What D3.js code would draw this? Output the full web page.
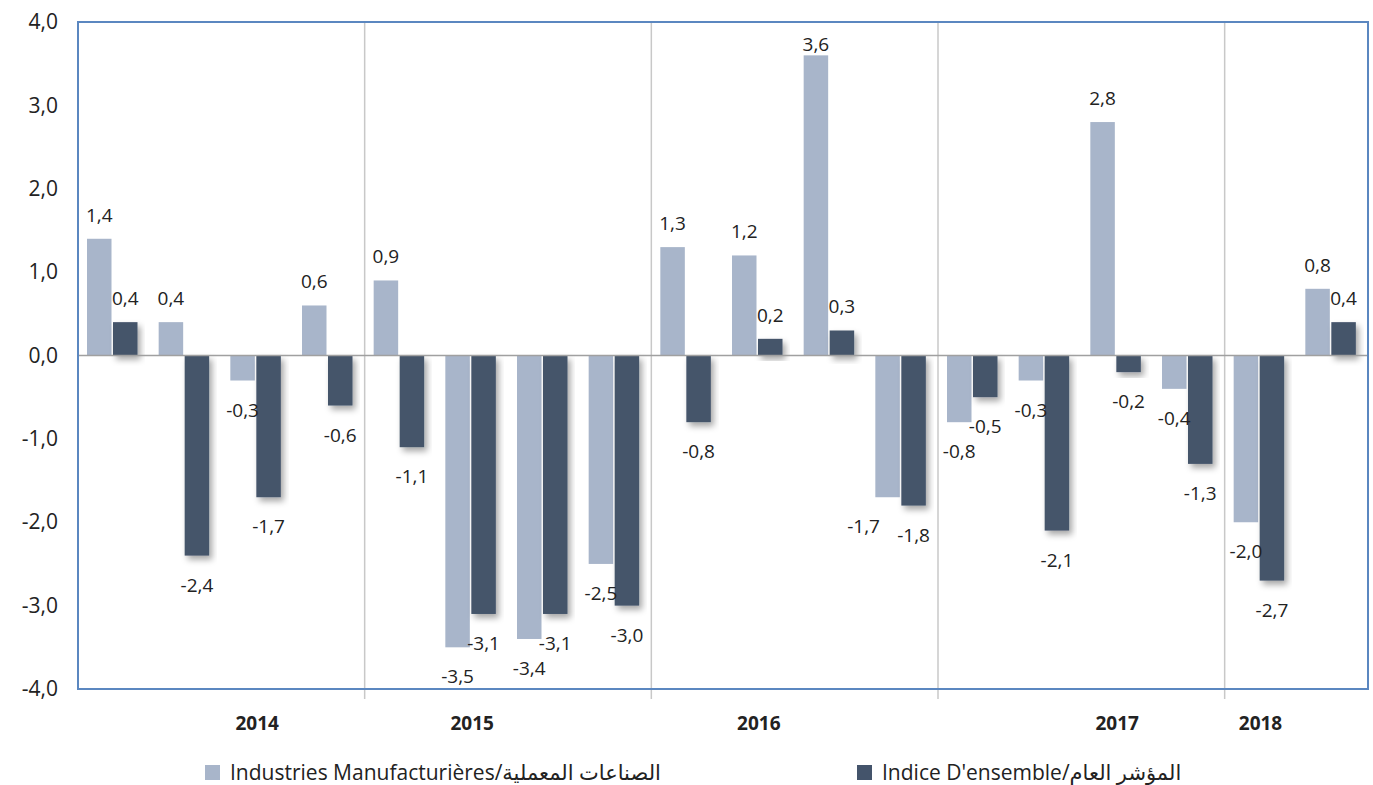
<!DOCTYPE html>
<html>
<head>
<meta charset="utf-8">
<script src="https://cdn.jsdelivr.net/npm/d3@7"></script>
<style>
  body { margin: 0; background: #fff; }
  text { font-family: "Open Sans", "DejaVu Sans", sans-serif; fill: #222; }
</style>
</head>
<body>
<div id="chart-area"></div>
<script>
// quarterly groups, 2014 T1 -> 2018 T2
var quarters = d3.range(18).map(function(i) { return "Q" + i; });
var manuf = [1.4, 0.4, -0.3, 0.6, 0.9, -3.5, -3.4, -2.5, 1.3, 1.2, 3.6, -1.7, -0.8, -0.3, 2.8, -0.4, -2.0, 0.8];
var ensemble = [0.4, -2.4, -1.7, -0.6, -1.1, -3.1, -3.1, -3.0, -0.8, 0.2, 0.3, -1.8, -0.5, -2.1, -0.2, -1.3, -2.7, 0.4];
var yearLabels = ["2014", "2015", "2016", "2017", "2018"];
var yearAt = [2, 5, 9, 14, 16];        // group under which each year label sits
var separators = [4, 8, 12, 16];       // group index where a new year starts
var yTicks = [-4, -3, -2, -1, 0, 1, 2, 3, 4];
var seriesNames = ["Industries Manufacturières/الصناعات المعملية", "Indice D'ensemble/المؤشر العام"];
var colors = ["#a8b5ca", "#44546b"];

var W = 1373, H = 785;
var margin = { top: 22, right: 5, bottom: 96, left: 78 };
var width = W - margin.left - margin.right,
    height = H - margin.top - margin.bottom;

var fmt = function(d) { return d3.format(".1f")(d).replace(".", ",").replace("−", "-"); };

var svg = d3.select("#chart-area").append("svg")
    .attr("width", W).attr("height", H);

var defs = svg.append("defs");
var f = defs.append("filter").attr("id", "shadow")
    .attr("x", "-30%").attr("y", "-30%").attr("width", "160%").attr("height", "160%");
f.append("feDropShadow").attr("dx", 3).attr("dy", 4).attr("stdDeviation", 3)
    .attr("flood-color", "#000").attr("flood-opacity", 0.35);

var g = svg.append("g")
    .attr("transform", "translate(" + margin.left + "," + margin.top + ")");

var x = d3.scaleBand().domain(quarters).range([0, width]).paddingInner(0).paddingOuter(0);
var y = d3.scaleLinear().domain([-4, 4]).range([height, 0]);
var step = x.step();
var barW = 24.5, gap = 1.5, off = 9;

// y axis labels
var yAxis = g.append("g")
    .call(d3.axisLeft(y).tickValues(yTicks).tickSize(0).tickPadding(20).tickFormat(fmt));
yAxis.select(".domain").remove();
yAxis.selectAll("text").attr("font-size", "21px").style("font-family", "'Open Sans', sans-serif").attr("fill", "#222");

// year separators
g.selectAll(".sep").data(separators).enter().append("line")
    .attr("x1", function(d) { return d * step; }).attr("x2", function(d) { return d * step; })
    .attr("y1", 0).attr("y2", height + 10)
    .attr("stroke", "#c8c8c8").attr("stroke-width", 1.5);

// bars
function barX(i, k) { return x(quarters[i]) + off + k * (barW + gap); }
function drawSeries(vals, k) {
  g.selectAll(".bar" + k).data(vals).enter().append("rect")
    .attr("class", "bar" + k)
    .attr("x", function(d, i) { return barX(i, k); })
    .attr("y", function(d) { return y(Math.max(0, d)); })
    .attr("width", barW)
    .attr("height", function(d) { return Math.abs(y(d) - y(0)); })
    .attr("fill", colors[k])
    .attr("filter", k === 1 ? "url(#shadow)" : null);
}
drawSeries(manuf, 0);
drawSeries(ensemble, 1);

// zero line
g.append("line").attr("x1", 0).attr("x2", width).attr("y1", y(0)).attr("y2", y(0))
    .attr("stroke", "#a0a0a0").attr("stroke-width", 1.5);

// data labels
function labelY(d) { return d >= 0 ? Math.max(y(d) - 17, 29) : y(d) + 36; }
function drawLabels(vals, k) {
  g.selectAll(".lab" + k).data(vals).enter().append("text")
    .attr("x", function(d, i) {
      var cx = barX(i, k) + barW / 2;
      // nudge the light label left when it would collide with its neighbour
      if (k === 0 && d < 0 && ensemble[i] < 0 && Math.abs(labelY(d) - labelY(ensemble[i])) < 20) cx -= 24;
      return cx;
    })
    .attr("y", labelY)
    .attr("text-anchor", "middle")
    .attr("font-size", "19px")
    .text(fmt);
}
drawLabels(manuf, 0);
drawLabels(ensemble, 1);

// frame
g.append("rect").attr("x", 0).attr("y", 0).attr("width", width).attr("height", height)
    .attr("fill", "none").attr("stroke", "#5b87c0").attr("stroke-width", 2);

// year labels
g.selectAll(".year").data(yearLabels).enter().append("text")
    .attr("x", function(d, i) { return x(quarters[yearAt[i]]) + step / 2; })
    .attr("y", height + 41)
    .attr("text-anchor", "middle")
    .attr("font-size", "19px").attr("font-weight", "bold")
    .text(function(d) { return d; });

// legend
var legendX = [205, 857];
var lg = svg.selectAll(".legend").data(seriesNames).enter().append("g")
    .attr("transform", function(d, i) { return "translate(" + legendX[i] + ",765)"; });
lg.append("rect").attr("width", 15).attr("height", 15)
    .attr("fill", function(d, i) { return colors[i]; });
lg.append("text").attr("x", 25).attr("y", 15)
    .attr("font-size", "21px").attr("direction", "ltr")
    .text(function(d) { return d; });
</script>
</body>
</html>
